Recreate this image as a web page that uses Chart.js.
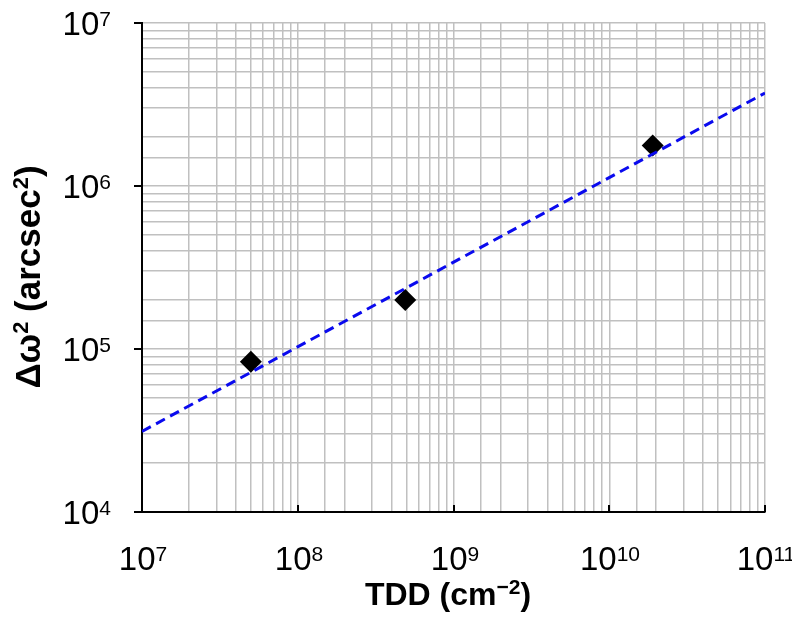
<!DOCTYPE html>
<html>
<head>
<meta charset="utf-8">
<script src="https://cdn.jsdelivr.net/npm/chart.js@4"></script>
<style>
  html, body { margin: 0; padding: 0; background: #fff; }
  #wrap { width: 792px; height: 618px; }
</style>
</head>
<body>
<div id="wrap"><canvas id="chart"></canvas></div>
<script>
// data
const tdd = [5.0e7, 4.9e8, 1.9e10];          // cm^-2
const dw2 = [8.35e4, 2.0e5, 1.77e6];         // arcsec^2
const fitX = [1e7, 1e11];                    // power-law trend line
const fitY = [3.12e4, 3.72e6];
const xMajor = [1e7, 1e8, 1e9, 1e10, 1e11];
const yMajor = [1e4, 1e5, 1e6, 1e7];
// titles as [text, superscript?] pieces
const xTitle = [['TDD (cm', false], ['\u22122', true], [')', false]];
const yTitle = [['\u0394\u03C9', false], ['2', true], [' (arcsec', false], ['2', true], [')', false]];

const FONT = '"Liberation Sans", Arial, sans-serif';

// draw text pieces with raised superscripts
function richText(ctx, parts, x, y, align, size, supSize, bold, rise) {
  const w = bold ? 'bold ' : '';
  let total = 0;
  const widths = parts.map(([t, sup]) => {
    ctx.font = w + (sup ? supSize : size) + 'px ' + FONT;
    const m = ctx.measureText(t).width;
    total += m;
    return m;
  });
  let left = align === 'center' ? x - total / 2 : (align === 'right' ? x - total : x);
  ctx.textAlign = 'left';
  ctx.textBaseline = 'alphabetic';
  parts.forEach(([t, sup], i) => {
    ctx.font = w + (sup ? supSize : size) + 'px ' + FONT;
    ctx.fillText(t, left, sup ? y - rise : y);
    left += widths[i];
  });
}

function powParts(v) {
  return [['10', false], [String(Math.round(Math.log10(v))), true]];
}

const axisText = {
  id: 'axisText',
  afterDraw(chart) {
    const ctx = chart.ctx;
    const xs = chart.scales.x, ys = chart.scales.y;
    const a = chart.chartArea;
    ctx.save();
    ctx.fillStyle = '#000';
    ctx.strokeStyle = '#000';
    ctx.lineWidth = 2;
    // major tick marks + labels
    xMajor.forEach(v => {
      const px = Math.round(xs.getPixelForValue(v));
      ctx.beginPath();
      ctx.moveTo(px, a.bottom);
      ctx.lineTo(px, a.bottom - 7);
      ctx.stroke();
      richText(ctx, powParts(v), px + 1, 570, 'center', 33, 21, false, 9.5);
    });
    yMajor.forEach(v => {
      const py = Math.round(ys.getPixelForValue(v));
      ctx.beginPath();
      ctx.moveTo(a.left, py);
      ctx.lineTo(a.left - 8, py);
      ctx.stroke();
      richText(ctx, powParts(v), 111, py + 12, 'right', 33, 21, false, 9.5);
    });
    // axis titles
    richText(ctx, xTitle, 448, 605, 'center', 32, 21, true, 11);
    ctx.translate(40, 277);
    ctx.rotate(-Math.PI / 2);
    richText(ctx, yTitle, 0, 0, 'center', 35, 22, true, 12);
    ctx.restore();
  }
};

const gridCol = '#c0c0c0';

new Chart(document.getElementById('chart'), {
  type: 'scatter',
  data: {
    datasets: [
      {
        label: 'Data',
        data: tdd.map((x, i) => ({ x: x, y: dw2[i] })),
        pointStyle: 'rectRot',
        pointRadius: 11,
        backgroundColor: '#000',
        borderColor: '#000',
        borderWidth: 0,
        order: 2
      },
      {
        label: 'Fit',
        type: 'line',
        data: fitX.map((x, i) => ({ x: x, y: fitY[i] })),
        borderColor: '#0a0aee',
        borderWidth: 3,
        borderDash: [10, 6],
        pointRadius: 0,
        fill: false,
        order: 1
      }
    ]
  },
  options: {
    responsive: true,
    maintainAspectRatio: false,
    animation: false,
    layout: { padding: { top: 23, right: 27, left: 0, bottom: 0 } },
    plugins: {
      legend: { display: false },
      tooltip: { enabled: false }
    },
    scales: {
      x: {
        type: 'logarithmic',
        min: 1e7,
        max: 1e11,
        ticks: { display: false },
        grid: { color: gridCol, lineWidth: 1.5, drawTicks: false },
        border: { color: '#000', width: 2 },
        afterFit: s => { s.height = 106; s.paddingLeft = 0; s.paddingRight = 0; }
      },
      y: {
        type: 'logarithmic',
        min: 1e4,
        max: 1e7,
        ticks: { display: false },
        grid: { color: gridCol, lineWidth: 1.5, drawTicks: false },
        border: { color: '#000', width: 2 },
        afterFit: s => { s.width = 142; s.paddingTop = 0; s.paddingBottom = 0; }
      }
    }
  },
  plugins: [axisText]
});
</script>
</body>
</html>
